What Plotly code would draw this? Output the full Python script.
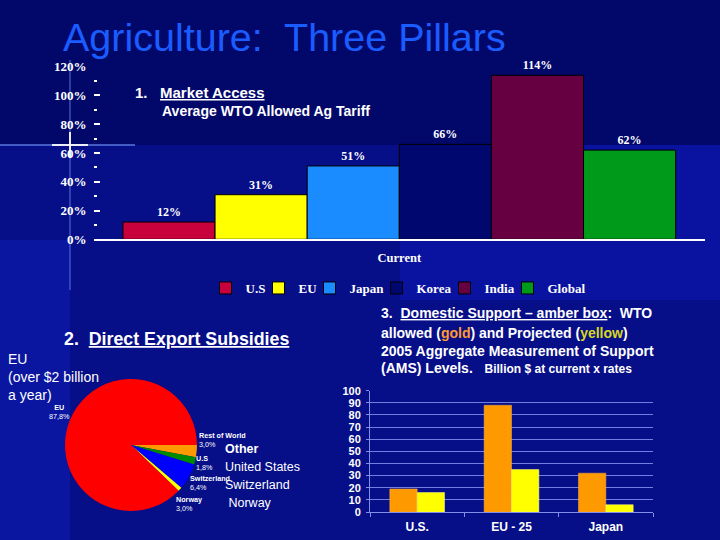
import plotly.graph_objects as go

# ---------------- data ----------------
# Chart 1: Market Access
ma_countries = ["U.S", "EU", "Japan", "Korea", "India", "Global"]
ma_values = [12, 31, 51, 66, 114, 62]
ma_category = ["Current"]
ma_colors = ["#c8003c", "#ffff00", "#1a8cff", "#000870", "#660040", "#009a1a"]
ma_ticks = [0, 20, 40, 60, 80, 100, 120]
ma_ticklabels = ["0%", "20%", "40%", "60%", "80%", "100%", "120%"]

# Chart 2: Direct Export Subsidies
pie_labels = ["Rest of World", "U.S", "Switzerland", "Norway", "EU"]
pie_values = [3.0, 1.8, 6.4, 1.0, 87.8]
pie_texts = ["3,0%", "1,8%", "6,4%", "3,0%", "87,8%"]
pie_colors = ["#ff9900", "#008a00", "#0000ff", "#ffff00", "#ff0000"]
side_labels = ["<b>Other</b>", "United States", "Switzerland", " Norway"]

# Chart 3: Domestic Support
ds_categories = ["U.S.", "EU - 25", "Japan"]
ds_allowed = [19, 88, 32]
ds_projected = [16, 35, 6]

# layout-only helpers (pixel positions of the pie's outside labels, legend entry widths)
pie_label_pos = [(197, 440, "left"), (194, 463, "left"), (188, 483, "left"), (174, 504, "left"), (59, 412, "center")]
legend_widths = [8, 6, 22, 23, 18, 42]

W, H = 720, 540
def px(x): return x / W
def py(y): return 1 - y / H

fig = go.Figure()

# ---- chart 1 bars ----
for name, val, col, lw in zip(ma_countries, ma_values, ma_colors, legend_widths):
    fig.add_trace(go.Bar(
        x=ma_category, y=[val], name=name,
        marker=dict(color=col, line=dict(color="#000000", width=1)),
        text=[f"{val}%"], textposition="outside", cliponaxis=False,
        textfont=dict(family="Liberation Serif", size=12, color="white", weight="bold"),
        xaxis="x", yaxis="y", showlegend=True, legendwidth=lw,
    ))

# ---- chart 2 pie ----
fig.add_trace(go.Pie(
    labels=pie_labels, values=pie_values, customdata=pie_texts,
    marker=dict(colors=pie_colors, line=dict(width=0)),
    sort=False, direction="clockwise", rotation=90,
    textinfo="none", hoverinfo="label+percent",
    domain=dict(x=[px(65), px(197)], y=[py(511), py(379)]),
    showlegend=False,
))

# ---- chart 3 bars ----
fig.add_trace(go.Bar(x=ds_categories, y=ds_allowed, name="allowed",
                     marker=dict(color="#ff9900", line=dict(color="#ffb040", width=0.5)),
                     width=0.29, offset=-0.29, xaxis="x3", yaxis="y3", showlegend=False))
fig.add_trace(go.Bar(x=ds_categories, y=ds_projected, name="projected",
                     marker=dict(color="#ffff00", line=dict(color="#ffff80", width=0.5)),
                     width=0.29, offset=0, xaxis="x3", yaxis="y3", showlegend=False))

# ---------------- background shapes ----------------
def prect(x0, y0, x1, y1, color):
    return dict(type="rect", xref="paper", yref="paper", x0=px(x0), x1=px(x1), y0=py(y1), y1=py(y0),
                fillcolor=color, line_width=0, layer="below")

def pline(x0, y0, x1, y1, color, width):
    return dict(type="line", xref="paper", yref="paper", x0=px(x0), x1=px(x1), y0=py(y0), y1=py(y1),
                line=dict(color=color, width=width), layer="below")

shapes = [
    prect(0, 0, 720, 145, "#02086a"),
    prect(70, 145, 720, 540, "#060e88"),
    prect(0, 145, 70, 240, "#060e88"),
    prect(400, 145, 720, 300, "#0a12a0"),
    # lens flare
    pline(0, 145, 135, 145, "rgba(120,160,255,0.55)", 2),
    pline(70, 60, 70, 290, "rgba(120,160,255,0.35)", 2),
    pline(52, 145, 88, 145, "rgba(255,255,255,0.9)", 2),
    pline(70, 132, 70, 158, "rgba(255,255,255,0.9)", 2),
]

SANS = "Liberation Sans, Arial, sans-serif"
SERIF = "Liberation Serif, Times New Roman, serif"

def ann(text, x, y, size, color="white", family=SANS, align="left", xanchor="left"):
    return dict(text=text, x=px(x), y=py(y), xref="paper", yref="paper", xanchor=xanchor,
                yanchor="middle", align=align, font=dict(family=family, size=size, color=color),
                showarrow=False)

annotations = [
    ann("Agriculture:  Three Pillars", 61, 37, 39.5, color="#1a5cff"),
    ann("<b>1.   <u>Market Access</u></b>", 133, 92, 15),
    ann("<b>Average WTO Allowed Ag Tariff</b>", 160, 111, 14),
    ann("<b>2.  <u>Direct Export Subsidies</u></b>", 62, 339, 17.8),
    ann("EU<br>(over $2 billion<br>a year)", 6, 377, 14),
    ann("<b>3.  <u>Domestic Support – amber box</u>:  WTO</b>", 379, 313, 14),
    ann("<b>allowed (<span style='color:#ff9a30'>gold</span>) and Projected "
        "(<span style='color:#d8d820'>yellow</span>)</b>", 379, 333, 14),
    ann("<b>2005 Aggregate Measurement of Support</b>", 379, 351, 14),
    ann("<b>(AMS) Levels.   <span style='font-size:12px'>Billion $ at current x rates</span></b>",
        379, 368, 14),
]
for i, t in enumerate(side_labels):
    annotations.append(ann(t, 223, 449 + i * 18, 12.5))
for lab, txt, (x, y, al) in zip(pie_labels, pie_texts, pie_label_pos):
    annotations.append(ann(f"<b>{lab}</b><br>{txt}", x, y, 7.2, align=al,
                           xanchor="left" if al == "left" else "center"))

fig.update_layout(
    width=W, height=H, margin=dict(l=0, r=0, t=0, b=0, pad=0, autoexpand=False),
    paper_bgcolor="#0a16a0", plot_bgcolor="rgba(0,0,0,0)",
    barmode="group", bargap=0.096, bargroupgap=0,
    shapes=shapes, annotations=annotations,
    xaxis=dict(domain=[px(93.6), px(705)], anchor="y", showline=True, linecolor="white", linewidth=1.5,
               ticks="", showgrid=False, zeroline=False, automargin=False,
               tickfont=dict(family=SERIF, size=12.5, color="white", weight="bold"), ticklabelstandoff=6),
    yaxis=dict(domain=[py(239.3), py(66.7)], anchor="x", range=[0, 120], tickvals=ma_ticks,
               ticktext=ma_ticklabels, showgrid=False, zeroline=False, showline=False, automargin=False,
               ticks="inside", ticklen=6, tickcolor="white", tickwidth=1.5,
               minor=dict(ticks="inside", ticklen=3, tickcolor="white", dtick=10, showgrid=False),
               tickfont=dict(family=SERIF, size=13, color="white", weight="bold"), ticklabelstandoff=6),
    xaxis3=dict(domain=[px(370), px(653)], anchor="y3", showline=True, linecolor="#8090e8", linewidth=1,
                ticks="outside", tickson="boundaries", ticklen=4, tickcolor="#8090e8", showgrid=False,
                automargin=False,
                tickfont=dict(family=SANS, size=12, color="white", weight="bold"), ticklabelstandoff=4),
    yaxis3=dict(domain=[py(512), py(390.7)], anchor="x3", range=[0, 100], dtick=10,
                showgrid=True, gridcolor="#7080e0", gridwidth=1, zeroline=False, automargin=False,
                showline=True, linecolor="#8090e8", linewidth=1, ticks="outside", ticklen=3,
                tickcolor="#8090e8",
                tickfont=dict(family=SANS, size=11, color="white", weight="bold"), ticklabelstandoff=3),
    legend=dict(orientation="h", x=px(400), xanchor="center", y=py(288), yanchor="middle",
                font=dict(family=SERIF, size=13, color="white", weight="bold"), bgcolor="rgba(0,0,0,0)",
                itemwidth=30, tracegroupgap=0, traceorder="normal"),
)

fig.write_html(
    "out.html",
    config={"displayModeBar": False},
    post_script="document.body.style.margin='0';document.body.style.overflow='hidden';"
                "document.documentElement.style.overflow='hidden';",
)
